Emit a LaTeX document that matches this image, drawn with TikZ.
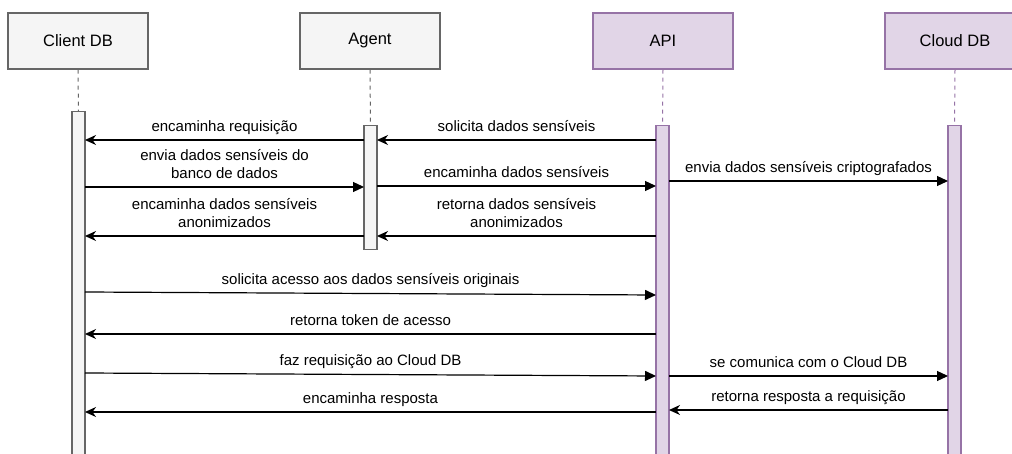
\documentclass[tikz,border=0pt]{standalone}
\usepackage{fontspec}
\setmainfont{Liberation Sans}
\usetikzlibrary{arrows.meta}
\definecolor{gfill}{HTML}{F5F5F5}
\definecolor{gline}{HTML}{666666}
\definecolor{pfill}{HTML}{E1D5E7}
\definecolor{pline}{HTML}{9673A6}
\begin{document}
\begin{tikzpicture}[x=1pt,y=-1pt,
  actor/.style={draw, line width=1.1pt, minimum width=140pt, minimum height=56pt, inner sep=0pt, font=\fontsize{16.5}{19}\selectfont},
  gact/.style={actor, fill=gfill, draw=gline},
  pact/.style={actor, fill=pfill, draw=pline},
  act/.style={draw, line width=1.1pt, minimum width=13pt, inner sep=0pt, anchor=north},
  life/.style={dash pattern=on 4pt off 4pt, line width=1pt},
  msgr/.style={line width=1.2pt, -{Triangle[length=11pt,width=10pt]}},
  msgl/.style={line width=1.2pt, -{Stealth[length=11pt,width=10pt,inset=3.5pt]}},
  lbl/.style={font=\fontsize{15}{17.5}\selectfont, align=center, inner sep=0pt, text depth=0pt, above=8pt}]
\useasboundingbox (0,0) rectangle (1012,454);
\begin{scope}
\clip (0,0) rectangle (1012,454);
% actors
\node[gact] (cdb) at (78,41) {Client DB};
\node[gact] (agt) at (370,41) {Agent};
\node[pact] (api) at (663,41) {API};
\node[pact] (cld) at (955,41) {Cloud DB};
% activations
\node[act, fill=gfill, draw=gline, minimum height=345pt] (acdb) at (78.5,111) {};
\node[act, fill=gfill, draw=gline, minimum height=124pt] (aagt) at (370.5,125) {};
\node[act, fill=pfill, draw=pline, minimum height=331pt] (aapi) at (662.5,125) {};
\node[act, fill=pfill, draw=pline, minimum height=331pt] (acld) at (954.5,125) {};
% lifelines
\draw[life, draw=gline] (cdb.south) -- (acdb.north);
\draw[life, draw=gline] (agt.south) -- (aagt.north);
\draw[life, draw=pline] (api.south) -- (aapi.north);
\draw[life, draw=pline] (cld.south) -- (acld.north);
% coordinates on activation edges
\coordinate (cR) at (85,0);
\coordinate (gL) at (364,0);
\coordinate (gR) at (377,0);
\coordinate (aL) at (656,0);
\coordinate (aR) at (669,0);
\coordinate (dL) at (948,0);
% messages
\draw[msgl] (aL |- 0,140) -- (gR |- 0,140) node[lbl, midway] {solicita dados sensíveis};
\draw[msgl] (gL |- 0,140) -- (cR |- 0,140) node[lbl, midway] {encaminha requisição};
\draw[msgr] (cR |- 0,187) -- (gL |- 0,187) node[lbl, midway] {envia dados sensíveis do\\banco de dados};
\draw[msgr] (gR |- 0,186) -- (aL |- 0,186) node[lbl, midway] {encaminha dados sensíveis};
\draw[msgr] (aR |- 0,181) -- (dL |- 0,181) node[lbl, midway] {envia dados sensíveis criptografados};
\draw[msgl] (gL |- 0,236) -- (cR |- 0,236) node[lbl, midway] {encaminha dados sensíveis\\anonimizados};
\draw[msgl] (aL |- 0,236) -- (gR |- 0,236) node[lbl, midway] {retorna dados sensíveis\\anonimizados};
\draw[msgr] (cR |- 0,292) -- (aL |- 0,295) node[lbl, midway] {solicita acesso aos dados sensíveis originais};
\draw[msgl] (aL |- 0,334) -- (cR |- 0,334) node[lbl, midway] {retorna token de acesso};
\draw[msgr] (cR |- 0,373) -- (aL |- 0,376) node[lbl, midway] {faz requisição ao Cloud DB};
\draw[msgr] (aR |- 0,376) -- (dL |- 0,376) node[lbl, midway] {se comunica com o Cloud DB};
\draw[msgl] (aL |- 0,412) -- (cR |- 0,412) node[lbl, midway] {encaminha resposta};
\draw[msgl] (dL |- 0,410) -- (aR |- 0,410) node[lbl, midway] {retorna resposta a requisição};
\end{scope}
\end{tikzpicture}
\end{document}
